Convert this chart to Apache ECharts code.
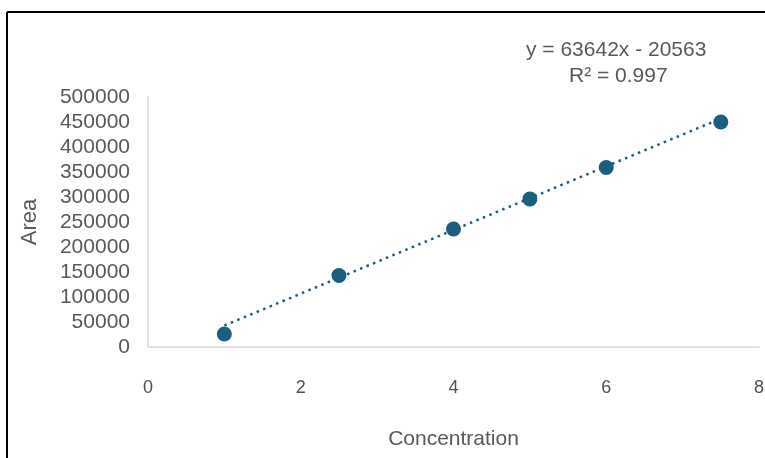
<!DOCTYPE html>
<html>
<head>
<meta charset="utf-8">
<script src="https://cdn.jsdelivr.net/npm/echarts@6/dist/echarts.min.js"></script>
<style>
  html, body { margin: 0; padding: 0; background: #fff; }
  #chart { width: 765px; height: 458px; }
</style>
</head>
<body>
<div id="chart"></div>
<script>
// Calibration data: concentration vs. peak area
const concentration = [1, 2.5, 4, 5, 6, 7.5];
const area = [26000, 143000, 236000, 296000, 359000, 450000];

// Linear fit reported on the chart
const fitSlope = 63642;
const fitIntercept = -20563;
const fitR2 = 0.997;

// Axis tick settings
const xTicks = { min: 0, max: 8, interval: 2 };
const yTicks = { min: 0, max: 500000, interval: 50000 };

const fitRange = [concentration[0], concentration[concentration.length - 1]];
const fitLine = fitRange.map(x => [x, fitSlope * x + fitIntercept]);

const points = concentration.map((x, i) => [x, area[i]]);

const markColor = '#1b5e80';
const textColor = '#595959';
const fontFamily = '"Liberation Sans", Arial, sans-serif';

const chart = echarts.init(document.getElementById('chart'), null, { renderer: 'canvas' });

chart.setOption({
  backgroundColor: '#ffffff',
  animation: false,
  grid: { left: 148, right: 6, top: 97, bottom: 111, outerBoundsMode: 'none', containLabel: false },
  xAxis: {
    type: 'value',
    min: xTicks.min,
    max: xTicks.max,
    interval: xTicks.interval,
    name: 'Concentration',
    nameLocation: 'middle',
    nameGap: 82,
    nameTextStyle: { color: textColor, fontSize: 21, fontFamily },
    axisLine: { show: true, lineStyle: { color: '#d9d9d9', width: 1.5 } },
    axisTick: { show: false },
    splitLine: { show: false },
    axisLabel: { color: '#505050', fontSize: 18, fontFamily, margin: 32 }
  },
  yAxis: {
    type: 'value',
    min: yTicks.min,
    max: yTicks.max,
    interval: yTicks.interval,
    name: 'Area',
    nameLocation: 'middle',
    nameGap: 107,
    nameRotate: 90,
    nameTextStyle: { color: textColor, fontSize: 22, fontFamily },
    axisLine: { show: true, lineStyle: { color: '#d9d9d9', width: 1.5 } },
    axisTick: { show: false },
    splitLine: { show: false },
    axisLabel: {
      color: textColor, fontSize: 21, fontFamily, margin: 18,
      formatter: v => String(v)
    }
  },
  series: [
    {
      name: 'Linear fit',
      type: 'line',
      data: fitLine,
      showSymbol: false,
      symbol: 'none',
      lineStyle: { color: markColor, width: 2.5, type: [2.5, 4.5] },
      z: 2
    },
    {
      name: 'Area',
      type: 'scatter',
      data: points,
      symbol: 'circle',
      symbolSize: 15,
      itemStyle: { color: markColor, opacity: 1 },
      z: 3
    }
  ],
  graphic: [
    {
      type: 'text',
      left: 621 - 95,
      top: 40,
      style: {
        text: 'y = ' + fitSlope + 'x - ' + Math.abs(fitIntercept),
        fill: textColor,
        font: '21px ' + fontFamily
      }
    },
    {
      type: 'text',
      left: 621 - 52,
      top: 66,
      style: {
        text: 'R² = ' + fitR2,
        fill: textColor,
        font: '21px ' + fontFamily
      }
    },
    // chart frame (top and left edges)
    {
      type: 'line',
      shape: { x1: 7, y1: 12, x2: 765, y2: 12 },
      style: { stroke: '#000', lineWidth: 2 }
    },
    {
      type: 'line',
      shape: { x1: 7, y1: 12, x2: 7, y2: 458 },
      style: { stroke: '#000', lineWidth: 2 }
    }
  ]
});
</script>
</body>
</html>
